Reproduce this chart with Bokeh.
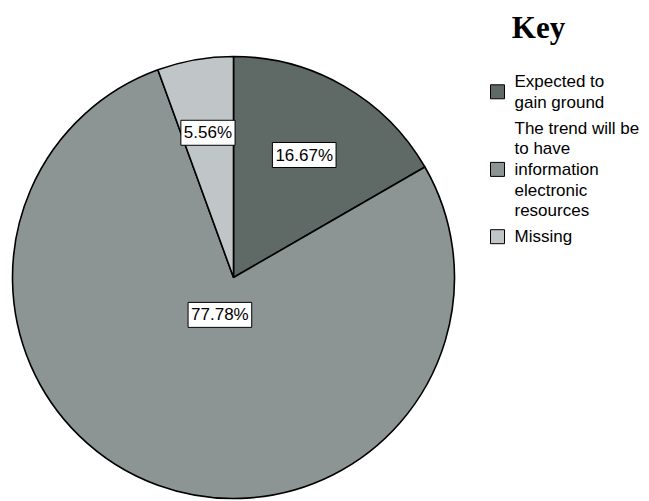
import math
from bokeh.plotting import figure
from bokeh.models import ColumnDataSource, Range1d
from bokeh.core.properties import value
from bokeh.embed import file_html
from bokeh.resources import INLINE

# ---- data ----
categories = ["Expected to gain ground",
              "The trend will be to have information electronic resources",
              "Missing"]
legend_lines = [["Expected to", "gain ground"],
                ["The trend will be", "to have", "information", "electronic", "resources"],
                ["Missing"]]
percents = [16.67, 77.78, 5.56]
labels = ["16.67%", "77.78%", "5.56%"]
colors = ["#5f6966", "#8c9593", "#c0c6c7"]

# ---- layout (pixel coords, y up) ----
W, H = 649, 501
cx, cy, R = 233, 224, 221
label_rfrac = [0.64, 0.18, 0.665]

p = figure(width=W, height=H, output_backend="svg", toolbar_location=None,
           x_range=Range1d(0, W), y_range=Range1d(0, H), min_border=0)
p.axis.visible = False
p.grid.visible = False
p.outline_line_color = None
p.background_fill_color = "white"

total = sum(percents)
starts, ends, lx, ly = [], [], [], []
cum = 0.0
for i, v in enumerate(percents):
    a0 = math.pi / 2 - 2 * math.pi * (cum + v) / total
    a1 = math.pi / 2 - 2 * math.pi * cum / total
    starts.append(a0)
    ends.append(a1)
    mid = (a0 + a1) / 2
    lx.append(cx + label_rfrac[i] * R * math.cos(mid))
    ly.append(cy + label_rfrac[i] * R * math.sin(mid))
    cum += v

src = ColumnDataSource(dict(start=starts, end=ends, color=colors,
                            lx=lx, ly=ly, label=labels))
p.wedge(x=cx, y=cy, radius=R, start_angle="start", end_angle="end",
        fill_color="color", line_color="black", line_width=1.6, source=src)

p.text(x="lx", y="ly", text="label", source=src, text_align="center",
       text_baseline="middle", text_font=value("Liberation Sans"),
       text_font_size="17px", text_color="black",
       background_fill_color="white", border_line_color="black",
       border_line_width=1, padding=3)

# ---- legend (manual) ----
p.text(x=[538], y=[474], text=["Key"], text_align="center", text_baseline="middle",
       text_font=value("Liberation Serif"), text_font_style="bold",
       text_font_size="31px", text_color="black")

line_h = 20.6
gap = 5.5
y = 501 - 81
tx, ty, tt, sy = [], [], [], []
for lines in legend_lines:
    ys = []
    for ln in lines:
        tx.append(514)
        ty.append(y)
        tt.append(ln)
        ys.append(y)
        y -= line_h
    sy.append((ys[0] + ys[-1]) / 2)
    y -= gap
p.rect(x=[497] * 3, y=sy, width=14, height=14, fill_color=colors,
       line_color="black", line_width=1)
p.text(x=tx, y=ty, text=tt, text_align="left", text_baseline="middle",
       text_font=value("Liberation Sans"), text_font_size="17px", text_color="black")

open("out.html", "w").write(file_html(p, INLINE))
